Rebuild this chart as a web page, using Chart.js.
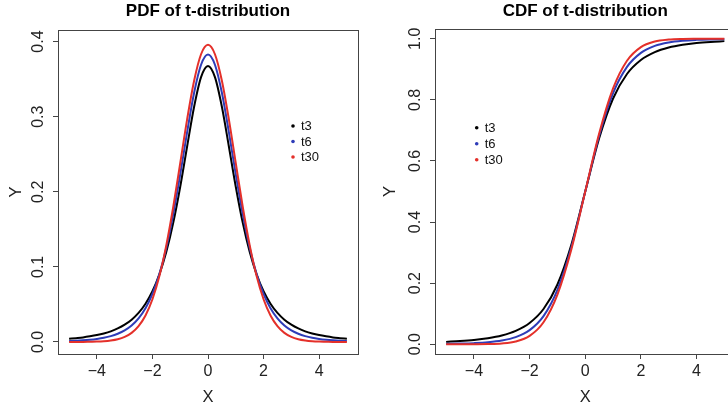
<!DOCTYPE html>
<html><head><meta charset="utf-8">
<script src="https://cdn.jsdelivr.net/npm/chart.js@4.4.1/dist/chart.umd.min.js"></script>
<style>
html,body{margin:0;padding:0;background:#fff;overflow:hidden;width:728px;height:409px;}
#c1{position:absolute;left:0;top:0;}
#c2{position:absolute;left:364px;top:0;}
</style></head><body>
<canvas id="c1" width="364" height="409"></canvas>
<canvas id="c2" width="400" height="409"></canvas>
<script>
// ---- data ----
const seriesLabels = ["t3", "t6", "t30"];
const seriesColors = ["#000000", "#2e3cb8", "#e4302a"];

const xPdf = [-5,-4.75,-4.5,-4.25,-4,-3.75,-3.5,-3.25,-3,-2.75,-2.5,-2.25,-2,-1.75,-1.5,-1.25,-1,-0.75,-0.5,-0.25,0,
  0.25,0.5,0.75,1,1.25,1.5,1.75,2,2.25,2.5,2.75,3,3.25,3.5,3.75,4,4.25,4.5,4.75,5];
const pdfT3 = [0.0042,0.0051,0.0061,0.0075,0.0092,0.0114,0.0142,0.0180,0.0230,0.0297,0.0387,0.0509,0.0675,0.0900,0.1200,0.1589,0.2067,0.2606,0.3132,0.3527,0.3676,
  0.3527,0.3132,0.2606,0.2067,0.1589,0.1200,0.0900,0.0675,0.0509,0.0387,0.0297,0.0230,0.0180,0.0142,0.0114,0.0092,0.0075,0.0061,0.0051,0.0042];
const pdfT6 = [0.0012,0.0016,0.0022,0.0030,0.0041,0.0056,0.0078,0.0110,0.0155,0.0220,0.0315,0.0450,0.0640,0.0904,0.1256,0.1703,0.2232,0.2797,0.3318,0.3691,0.3827,
  0.3691,0.3318,0.2797,0.2232,0.1703,0.1256,0.0904,0.0640,0.0450,0.0315,0.0220,0.0155,0.0110,0.0078,0.0056,0.0041,0.0030,0.0022,0.0016,0.0012];
const pdfT30 = [0.0001,0.0001,0.0001,0.0003,0.0005,0.0010,0.0020,0.0037,0.0068,0.0121,0.0211,0.0353,0.0569,0.0877,0.1290,0.1801,0.2380,0.2967,0.3479,0.3831,0.3956,
  0.3831,0.3479,0.2967,0.2380,0.1801,0.1290,0.0877,0.0569,0.0353,0.0211,0.0121,0.0068,0.0037,0.0020,0.0010,0.0005,0.0003,0.0001,0.0001,0.0001];

const xCdf = [-5,-4.5,-4,-3.5,-3,-2.5,-2,-1.5,-1,-0.5,0,0.5,1,1.5,2,2.5,3,3.5,4,4.5,5];
const cdfT3 = [0.0077,0.0103,0.0140,0.0197,0.0288,0.0439,0.0697,0.1153,0.1955,0.3257,0.5,0.6743,0.8045,0.8847,0.9303,0.9561,0.9712,0.9803,0.9860,0.9897,0.9923];
const cdfT6 = [0.0012,0.0021,0.0036,0.0064,0.0120,0.0233,0.0462,0.0921,0.1780,0.3174,0.5,0.6826,0.8220,0.9079,0.9538,0.9767,0.9880,0.9936,0.9964,0.9979,0.9988];
const cdfT30 = [0.00001,0.00005,0.0002,0.0007,0.0027,0.0091,0.0273,0.0720,0.1627,0.3103,0.5,0.6897,0.8373,0.9280,0.9727,0.9909,0.9973,0.9993,0.9998,0.99995,0.99999];

const xTicks = [-4, -2, 0, 2, 4];
const pdfYTicks = [0, 0.1, 0.2, 0.3, 0.4];
const pdfYTickLabels = ["0.0", "0.1", "0.2", "0.3", "0.4"];
const cdfYTicks = [0, 0.2, 0.4, 0.6, 0.8, 1.0];
const cdfYTickLabels = ["0.0", "0.2", "0.4", "0.6", "0.8", "1.0"];

// ---- drawing ----
const FONT = "'Liberation Sans', Arial, Helvetica, sans-serif";
const AXIS_COLOR = "#444";

const rPlugin = {
  id: 'rstyle',
  afterDraw(chart, args, opts) {
    const ctx = chart.ctx, a = chart.chartArea;
    ctx.save();
    // box
    ctx.strokeStyle = AXIS_COLOR; ctx.lineWidth = 1;
    ctx.strokeRect(Math.round(a.left) + 0.5, Math.round(a.top) + 0.5,
      Math.round(a.right) - Math.round(a.left), Math.round(a.bottom) - Math.round(a.top));
    // rotated y tick labels (R las=0 style)
    const ys = chart.scales.y;
    ctx.fillStyle = "#222";
    ctx.font = "16px " + FONT;
    ctx.textAlign = "center"; ctx.textBaseline = "middle";
    opts.yTicks.forEach((v, i) => {
      const py = ys.getPixelForValue(v);
      ctx.save();
      ctx.translate(a.left - 19.5, py);
      ctx.rotate(-Math.PI / 2);
      ctx.fillText(opts.yLabels[i], 0, 0);
      ctx.restore();
    });
    // legend (points + labels)
    ctx.font = "13px " + FONT;
    ctx.textAlign = "left";
    chart.data.datasets.slice().sort((p, q) => p.legendIndex - q.legendIndex).forEach((ds, i) => {
      const px = a.left + opts.legendX, py = opts.legendY + i * opts.legendStep;
      ctx.fillStyle = ds.borderColor;
      ctx.beginPath(); ctx.arc(px, py, 1.8, 0, Math.PI * 2); ctx.fill();
      ctx.fillStyle = "#111";
      ctx.fillText(ds.label, px + 8, py + 0.5);
    });
    ctx.restore();
  }
};

function makeDatasets(xs, ys) {
  return ys.map((arr, i) => ({
    label: seriesLabels[i],
    legendIndex: i,
    data: xs.map((x, k) => ({ x: x, y: arr[k] })),
    borderColor: seriesColors[i],
    backgroundColor: seriesColors[i],
    borderWidth: 2,
    pointRadius: 0,
    fill: false,
    cubicInterpolationMode: 'monotone',
    order: 2 - i
  }));
}

function makeChart(id, o) {
  return new Chart(document.getElementById(id), {
    type: 'line',
    data: { datasets: makeDatasets(o.xs, o.ys) },
    plugins: [rPlugin],
    options: {
      responsive: false,
      animation: false,
      events: [],
      layout: { padding: { left: 0, right: o.padRight, top: 0, bottom: 0 } },
      plugins: {
        legend: { display: false },
        tooltip: { enabled: false },
        title: {
          display: true, text: o.title, fullSize: false, color: "#000",
          font: { family: FONT, size: 17, weight: 'bold' },
          padding: { top: 1.6, bottom: o.titleBottom }
        },
        rstyle: {
          yTicks: o.yTicks, yLabels: o.yLabels,
          legendX: o.legendX, legendY: o.legendY, legendStep: o.legendStep
        }
      },
      scales: {
        x: {
          type: 'linear', min: -5.4, max: 5.4,
          afterBuildTicks: s => { s.ticks = xTicks.map(v => ({ value: v })); },
          afterFit: s => { s.height = 55; },
          grid: { drawOnChartArea: false, drawTicks: true, tickLength: 5, color: AXIS_COLOR },
          border: { display: false },
          ticks: {
            color: "#222", padding: 3.4, maxRotation: 0, autoSkip: false,
            font: { family: FONT, size: 16 },
            callback: v => (v < 0 ? "\u2212" + Math.abs(v) : String(v))
          },
          title: { display: true, text: "X", color: "#222", font: { family: FONT, size: 16.5 }, padding: { top: 0, bottom: 1.2 } }
        },
        y: {
          type: 'linear', min: o.yMin, max: o.yMax,
          afterBuildTicks: s => { s.ticks = o.yTicks.map(v => ({ value: v })); },
          afterFit: s => { s.width = o.yWidth; },
          grid: { drawOnChartArea: false, drawTicks: true, tickLength: 5, color: AXIS_COLOR },
          border: { display: false },
          ticks: { display: false },
          title: { display: true, text: "Y", color: "#222", font: { family: FONT, size: 16.5 }, padding: { top: o.yTitlePad, bottom: 0 } }
        }
      }
    }
  });
}

makeChart('c1', {
  title: "PDF of t-distribution",
  xs: xPdf, ys: [pdfT3, pdfT6, pdfT30],
  yMin: -0.016, yMax: 0.4154, yTicks: pdfYTicks, yLabels: pdfYTickLabels,
  yWidth: 58, yTitlePad: 6.1, padRight: 6, titleBottom: 8.0,
  legendX: 235, legendY: 126, legendStep: 15.5
});

makeChart('c2', {
  title: "CDF of t-distribution",
  xs: xCdf, ys: [cdfT3, cdfT6, cdfT30],
  yMin: -0.032, yMax: 1.032, yTicks: cdfYTicks, yLabels: cdfYTickLabels,
  yWidth: 71, yTitlePad: 16.8, padRight: 28.5, titleBottom: 7.0,
  legendX: 41.7, legendY: 127.7, legendStep: 16
});
</script>
</body></html>
